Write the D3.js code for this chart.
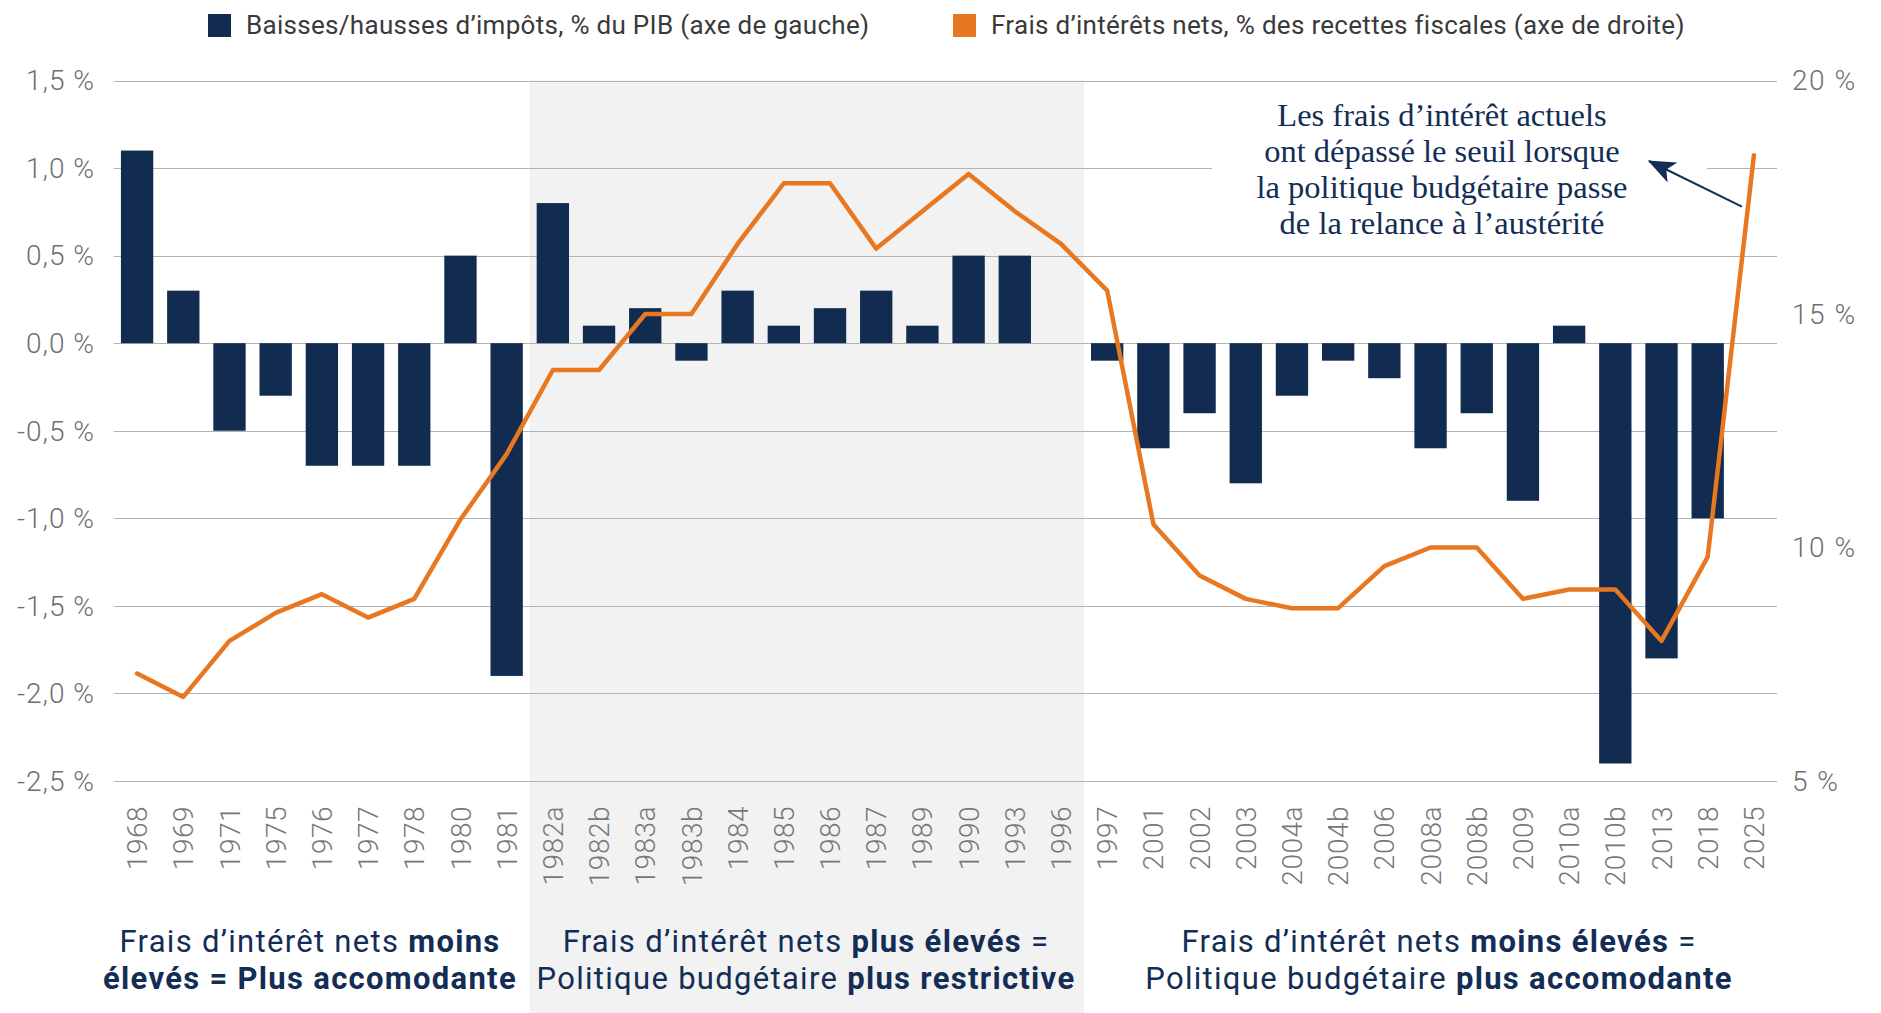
<!DOCTYPE html>
<html>
<head>
<meta charset="utf-8">
<script src="https://cdn.jsdelivr.net/npm/d3@7/dist/d3.min.js"></script>
<style>
  body { margin: 0; background: #fff; }
  svg { display: block; }
</style>
</head>
<body>
<div id="chart"></div>
<script>
'use strict'

// categories (x axis)
var categories = ['1968', '1969', '1971', '1975', '1976', '1977', '1978', '1980', '1981',
  '1982a', '1982b', '1983a', '1983b', '1984', '1985', '1986', '1987', '1989', '1990', '1993', '1996',
  '1997', '2001', '2002', '2003', '2004a', '2004b', '2006', '2008a', '2008b', '2009', '2010a', '2010b',
  '2013', '2018', '2025'];

// tax cuts / hikes, % of GDP (left axis)
var taxChanges = [1.1, 0.3, -0.5, -0.3, -0.7, -0.7, -0.7, 0.5, -1.9,
  0.8, 0.1, 0.2, -0.1, 0.3, 0.1, 0.2, 0.3, 0.1, 0.5, 0.5, 0,
  -0.1, -0.6, -0.4, -0.8, -0.3, -0.1, -0.2, -0.6, -0.4, -0.9, 0.1, -2.4,
  -1.8, -1.0, 0];

// net interest costs, % of tax revenue (right axis)
var interestCosts = [7.3, 6.8, 8.0, 8.6, 9.0, 8.5, 8.9, 10.6, 12.0,
  13.8, 13.8, 15.0, 15.0, 16.5, 17.8, 17.8, 16.4, 17.2, 18.0, 17.2, 16.5,
  15.5, 10.5, 9.4, 8.9, 8.7, 8.7, 9.6, 10.0, 10.0, 8.9, 9.1, 9.1,
  8.0, 9.8, 18.4];

var leftTicks = [-2.5, -2, -1.5, -1, -0.5, 0, 0.5, 1, 1.5];
var rightTicks = [5, 10, 15, 20];
var shadedRange = ['1982a', '1996'];

var legendLabels = [
  'Baisses/hausses d’impôts, % du PIB (axe de gauche)',
  'Frais d’intérêts nets, % des recettes fiscales (axe de droite)'
];

var noteLines = [
  'Les frais d’intérêt actuels',
  'ont dépassé le seuil lorsque',
  'la politique budgétaire passe',
  'de la relance à l’austérité'
];

// each block: lines of [text, bold] runs
var footerBlocks = [
  [[['Frais d’intérêt nets ', false], ['moins', true]],
   [['élevés = Plus accomodante', true]]],
  [[['Frais d’intérêt nets ', false], ['plus élevés', true], [' =', false]],
   [['Politique budgétaire ', false], ['plus restrictive', true]]],
  [[['Frais d’intérêt nets ', false], ['moins élevés', true], [' =', false]],
   [['Politique budgétaire ', false], ['plus accomodante', true]]]
];

(function() {
  var width = 1881, height = 1013;
  var margin = { top: 80.5, right: 104, bottom: 232, left: 114 };
  var navy = '#122b50', orange = '#e87722', grid = '#b3b3b3';
  var sans = 'Roboto, "Open Sans", sans-serif';

  var svg = d3.select('#chart').append('svg')
    .attr('width', width)
    .attr('height', height)
    .style('font-family', sans);

  var x = d3.scaleBand()
    .domain(categories)
    .range([margin.left, width - margin.right])
    .paddingInner(0.3)
    .paddingOuter(0.15);

  var yLeft = d3.scaleLinear()
    .domain([-2.5, 1.5])
    .range([height - margin.bottom, margin.top]);

  var yRight = d3.scaleLinear()
    .domain([5, 20])
    .range([height - margin.bottom, margin.top]);

  var step = x.step();
  var halfGap = x.paddingInner() * step / 2;

  // shaded period
  svg.append('rect')
    .attr('x', x(shadedRange[0]) - halfGap)
    .attr('y', margin.top)
    .attr('width', x(shadedRange[1]) + x.bandwidth() + halfGap - (x(shadedRange[0]) - halfGap))
    .attr('height', height - margin.top)
    .attr('fill', '#f2f2f2');

  // gridlines
  svg.append('g')
    .selectAll('line')
    .data(leftTicks)
    .enter()
    .append('line')
    .attr('x1', margin.left)
    .attr('x2', width - margin.right)
    .attr('y1', function(d) { return Math.round(yLeft(d)) + 0.5; })
    .attr('y2', function(d) { return Math.round(yLeft(d)) + 0.5; })
    .attr('stroke', grid)
    .attr('stroke-width', 1);

  // left axis labels
  var fmtLeft = function(d) { return d3.format('.1f')(d).replace('.', ',').replace('−', '-') + ' %'; };
  svg.append('g')
    .selectAll('text')
    .data(leftTicks)
    .enter()
    .append('text')
    .attr('x', 95)
    .attr('y', function(d) { return yLeft(d); })
    .attr('dy', '0.35em')
    .attr('text-anchor', 'end')
    .attr('fill', '#6f6f6f')
    .attr('font-size', 28)
    .attr('font-weight', 300)
    .attr('letter-spacing', 1)
    .text(fmtLeft);

  // right axis labels
  svg.append('g')
    .selectAll('text')
    .data(rightTicks)
    .enter()
    .append('text')
    .attr('x', 1792)
    .attr('y', function(d) { return yRight(d); })
    .attr('dy', '0.35em')
    .attr('fill', '#6f6f6f')
    .attr('font-size', 28)
    .attr('font-weight', 300)
    .attr('letter-spacing', 1.5)
    .text(function(d) { return d + ' %'; });

  // x axis labels
  svg.append('g')
    .selectAll('text')
    .data(categories)
    .enter()
    .append('text')
    .attr('transform', function(d) {
      return 'translate(' + (x(d) + x.bandwidth() / 2) + ',' + (height - margin.bottom + 25) + ') rotate(-90)';
    })
    .attr('dy', '0.36em')
    .attr('text-anchor', 'end')
    .attr('fill', '#777')
    .attr('font-size', 28)
    .attr('font-weight', 300)
    .attr('letter-spacing', 0.5)
    .text(function(d) { return d; });

  // bars
  svg.append('g')
    .selectAll('rect')
    .data(categories)
    .enter()
    .append('rect')
    .attr('x', function(d) { return x(d); })
    .attr('width', x.bandwidth())
    .attr('y', function(d, i) { return yLeft(Math.max(0, taxChanges[i])); })
    .attr('height', function(d, i) { return Math.abs(yLeft(taxChanges[i]) - yLeft(0)); })
    .attr('fill', navy);

  // interest line
  var line = d3.line()
    .x(function(d, i) { return x(categories[i]) + x.bandwidth() / 2; })
    .y(function(d) { return yRight(d); });

  svg.append('path')
    .datum(interestCosts)
    .attr('d', line)
    .attr('fill', 'none')
    .attr('stroke', orange)
    .attr('stroke-width', 4.5)
    .attr('stroke-linejoin', 'round')
    .attr('stroke-linecap', 'round');

  // annotation
  var noteX = 1442;
  svg.append('rect')
    .attr('x', 1212)
    .attr('y', 96)
    .attr('width', 495)
    .attr('height', 146)
    .attr('fill', '#fff');

  svg.append('g')
    .selectAll('text')
    .data(noteLines)
    .enter()
    .append('text')
    .attr('x', noteX)
    .attr('y', function(d, i) { return 126 + i * 36; })
    .attr('text-anchor', 'middle')
    .attr('fill', '#132d55')
    .attr('font-family', '"Liberation Serif", "DejaVu Serif", serif')
    .attr('font-size', 32.5)
    .text(function(d) { return d; });

  var defs = svg.append('defs');
  defs.append('marker')
    .attr('id', 'arrowhead')
    .attr('viewBox', '0 0 20 16')
    .attr('refX', 19)
    .attr('refY', 8)
    .attr('markerUnits', 'userSpaceOnUse')
    .attr('markerWidth', 28)
    .attr('markerHeight', 22)
    .attr('orient', 'auto')
    .append('path')
    .attr('d', 'M0,0 L20,8 L0,16 L5,8 Z')
    .attr('fill', '#132d55');

  var last = categories.length - 1;
  svg.append('line')
    .attr('x1', x(categories[last]) + x.bandwidth() / 2 - 12)
    .attr('y1', yRight(17.3))
    .attr('x2', 1649)
    .attr('y2', 161)
    .attr('stroke', '#132d55')
    .attr('stroke-width', 2)
    .attr('marker-end', 'url(#arrowhead)');

  // legend
  var legendItems = [
    { label: legendLabels[0], color: navy, x: 208 },
    { label: legendLabels[1], color: orange, x: 953 }
  ];
  var legend = svg.append('g')
    .selectAll('g')
    .data(legendItems)
    .enter()
    .append('g')
    .attr('transform', function(d) { return 'translate(' + d.x + ', 14)'; });
  legend.append('rect')
    .attr('width', 23)
    .attr('height', 23)
    .attr('fill', function(d) { return d.color; });
  legend.append('text')
    .attr('x', 38)
    .attr('y', 20)
    .attr('fill', '#3a3a3a')
    .attr('font-size', 26)
    .attr('letter-spacing', 0.3)
    .text(function(d) { return d.label; });

  // footer notes
  var footerX = [310, 806, 1439];
  footerBlocks.forEach(function(block, b) {
    block.forEach(function(lineRuns, l) {
      var t = svg.append('text')
        .attr('x', footerX[b])
        .attr('y', 952 + l * 37)
        .attr('text-anchor', 'middle')
        .attr('fill', '#132d55')
        .attr('font-size', 31)
        .attr('letter-spacing', 1.3);
      lineRuns.forEach(function(run) {
        t.append('tspan')
          .attr('font-weight', run[1] ? 700 : 400)
          .text(run[0]);
      });
    });
  });
})();
</script>
</body>
</html>
